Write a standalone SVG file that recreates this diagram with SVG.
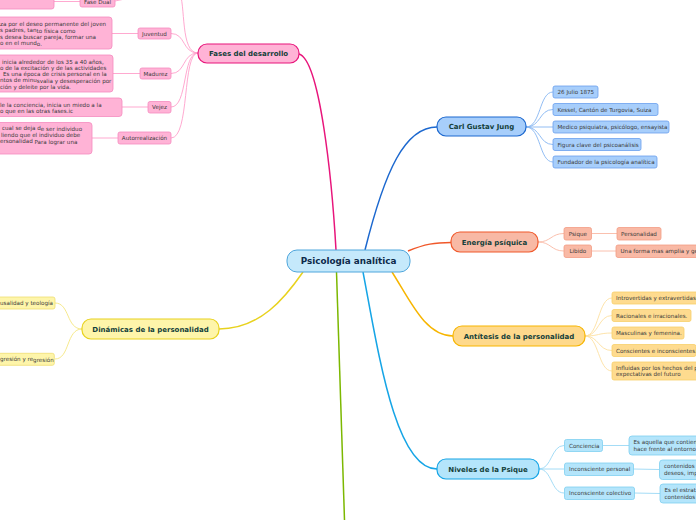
<svg xmlns="http://www.w3.org/2000/svg" width="696" height="520" viewBox="0 0 696 520">
<style>
text{font-family:"DejaVu Sans","Verdana",sans-serif}
.main{font-size:7px;font-weight:bold;fill:#13403a;text-anchor:middle}
.ctr{font-size:8.8px;font-weight:bold;fill:#0d2a4a;text-anchor:middle}
.s{font-size:5.6px;fill:#3a3a3a}
.m{text-anchor:middle}
.pk{fill:#ffb3d6;stroke:#f58bbf;stroke-width:0.8}
.bl{fill:#a7cefb;stroke:#6aa0ee;stroke-width:0.8}
.sa{fill:#f9b9a5;stroke:#f29c84;stroke-width:0.8}
.or{fill:#fedb8f;stroke:#f8cf6a;stroke-width:0.8}
.cy{fill:#b4e5fb;stroke:#7fcff0;stroke-width:0.8}
.ye{fill:#fef5aa;stroke:#efde72;stroke-width:0.8}
path{fill:none}
</style>
<rect width="696" height="520" fill="#ffffff"/>
<g id="connectors">
<path d="M336,250 C332,180 320,60 299,54" stroke="#e8157b" stroke-width="1.5"/>
<path d="M365,250 C385,170 405,127 437,127" stroke="#1c68cf" stroke-width="1.5"/>
<path d="M408,251 C425,244 435,242.5 451,242.5" stroke="#f0582a" stroke-width="1.5"/>
<path d="M392,272 C410,300 425,336 453,336" stroke="#f7b500" stroke-width="1.5"/>
<path d="M363,272 C378,350 395,469 437,469" stroke="#16a5e6" stroke-width="1.5"/>
<path d="M336.5,272 L344.5,520" stroke="#7cb800" stroke-width="1.5"/>
<path d="M303,272 C285,298 260,329 219,329" stroke="#e8d21e" stroke-width="1.5"/>
<g stroke="#ff9fcb" stroke-width="0.9">
<path d="M198,53 C180,53 186,5 179,-10"/>
<path d="M198,53 C182,53 186,33.5 171,33.5"/>
<path d="M198,53 C182,53 186,73.5 171,73.5"/>
<path d="M198,53 C182,53 188,107 171,107"/>
<path d="M198,53 C182,53 190,138 171,138"/>
<path d="M138,33.5 L112,33.5"/>
<path d="M140,73.5 L113,73.5"/>
<path d="M148,107 L122,107"/>
<path d="M118,138 L92,138"/>
<path d="M54,1.5 L80,1.5"/>
<path d="M115,1 L135,-3"/>
</g>
<g stroke="#86b6f2" stroke-width="0.9">
<path d="M526,127 C541,127 539,92 553,92"/>
<path d="M526,127 C541,127 539,109.5 553,109.5"/>
<path d="M526,127 L553,127"/>
<path d="M526,127 C541,127 539,144.5 553,144.5"/>
<path d="M526,127 C541,127 539,162 553,162"/>
</g>
<g stroke="#f9b9a5" stroke-width="0.9">
<path d="M538,242 C551,242 551,233.5 564,233.5"/>
<path d="M538,242 C551,242 551,251 564,251"/>
<path d="M592,233.5 L617,233.5"/>
<path d="M592,251 L616,251"/>
</g>
<g stroke="#fde0a0" stroke-width="0.9">
<path d="M585,336 C599,336 598,298 612,298"/>
<path d="M585,336 C599,336 598,315.5 612,315.5"/>
<path d="M585,336 C599,336 598,333 612,333"/>
<path d="M585,336 C599,336 598,350.5 612,350.5"/>
<path d="M585,336 C599,336 598,371 612,371"/>
</g>
<g stroke="#9ad8f5" stroke-width="0.9">
<path d="M539,469 C552,469 551,445.5 564,445.5"/>
<path d="M539,469 L564,469"/>
<path d="M539,469 C552,469 551,493 564,493"/>
<path d="M603,445.5 L629,445.5"/>
<path d="M633,469 L659,469.5"/>
<path d="M634,493 L660,493.5"/>
</g>
<g stroke="#f5e680" stroke-width="0.9">
<path d="M82,329 C66,329 70,303 55,303"/>
<path d="M82,329 C66,329 70,359 55,359"/>
</g>
</g>
<g id="center"><rect x="287" y="250" width="123" height="22" rx="10" fill="#c5e9fb" stroke="#4ea6dc" stroke-width="1"/><text class="ctr" x="348.5" y="264.3">Psicología analítica</text></g>
<g id="fases"><rect x="198" y="44" width="101" height="19" rx="9" fill="#ffb3d6" stroke="#e8157b" stroke-width="1.2"/><text class="main" x="248.5" y="56">Fases del desarrollo</text></g>
<g id="jung"><rect x="437" y="117" width="89" height="19" rx="9" fill="#a7cefb" stroke="#1c68cf" stroke-width="1.2"/><text class="main" x="481.5" y="129.3">Carl Gustav Jung</text></g>
<g id="energia"><rect x="451" y="232" width="87" height="20" rx="9" fill="#f8b9a5" stroke="#f0582a" stroke-width="1.2"/><text class="main" x="494.5" y="244.6">Energía psíquica</text></g>
<g id="antitesis"><rect x="453" y="326" width="132" height="20" rx="9" fill="#fed98c" stroke="#f7b500" stroke-width="1.2"/><text class="main" x="519" y="338.6">Antítesis de la personalidad</text></g>
<g id="niveles"><rect x="437" y="459" width="102" height="20" rx="9" fill="#b4e5fb" stroke="#16a5e6" stroke-width="1.2"/><text class="main" x="488" y="471.6">Niveles de la Psique</text></g>
<g id="dinamicas"><rect x="82" y="319" width="137" height="20" rx="9" fill="#fef5aa" stroke="#e8d21e" stroke-width="1.2"/><text class="main" x="150.5" y="331.6">Dinámicas de la personalidad</text></g>

<g id="fase-top"><rect class="pk" x="-5" y="-10" width="59" height="19" rx="2.5"/></g>
<g id="fase-dual"><rect class="pk" x="80" y="-5" width="35" height="12" rx="2"/><text class="s m" x="97.5" y="4">Fase Dual</text></g>
<g id="juventud"><rect class="pk" x="138" y="28" width="33" height="11" rx="2"/><text class="s m" x="154.5" y="35.5">Juventud</text></g>
<g id="madurez"><rect class="pk" x="140" y="68" width="31" height="11" rx="2"/><text class="s m" x="155.5" y="75.5">Madurez</text></g>
<g id="vejez"><rect class="pk" x="148" y="101.5" width="23" height="11.5" rx="2"/><text class="s m" x="159.5" y="109.2">Vejez</text></g>
<g id="autorrealizacion"><rect class="pk" x="118" y="132" width="53" height="12" rx="2"/><text class="s m" x="144.5" y="140">Autorrealización</text></g>
<g id="juventud-desc"><rect class="pk" x="-6" y="17" width="118" height="32" rx="3"/>
<text class="s" x="0" y="26">za por el deseo permanente del joven</text>
<text class="s" x="0" y="32">s padres, tan<tspan dy="1">to física como</tspan></text>
<text class="s" x="0" y="38.8">s desea buscar pareja, formar una</text>
<text class="s" x="0" y="45">o en el mund<tspan dy="0.8">o.</tspan></text></g>
<g id="madurez-desc"><rect class="pk" x="-6" y="55" width="119" height="37" rx="3"/>
<text class="s" x="2" y="63.5">inicia alrededor de los 35 a 40 años,</text>
<text class="s" x="0" y="69.6">o de la excita<tspan dy="0.6">ción y de las actividades</tspan></text>
<text class="s" x="3" y="76.2">Es una época de crisis personal en la</text>
<text class="s" x="0" y="82.2">ntos de minu<tspan dy="0.8">svalia y desesperación por</tspan></text>
<text class="s" x="0" y="89">ción y deleite por la vida.</text></g>
<g id="vejez-desc"><rect class="pk" x="-6" y="98" width="128" height="18.5" rx="3"/>
<text class="s" x="0" y="106.5">le la concien<tspan dy="0.8">cia, inicia un miedo a la</tspan></text>
<text class="s" x="0" y="113.4">o que en las otras fases.ic</text></g>
<g id="autorrealizacion-desc"><rect class="pk" x="-6" y="122.5" width="98" height="31.5" rx="3"/>
<text class="s" x="2" y="130">cual se deja d<tspan dy="0.8">e ser individuo</tspan></text>
<text class="s" x="1" y="137.4">liendo que el individuo debe</text>
<text class="s" x="0" y="143.2">ersonalidad<tspan dy="0.8"> Para lograr una</tspan></text></g>

<g id="jung-1"><rect class="bl" x="553" y="86" width="45" height="12" rx="2"/><text class="s" x="557.5" y="94">26 Julio 1875</text></g>
<g id="jung-2"><rect class="bl" x="553" y="103.5" width="105" height="12" rx="2"/><text class="s" x="557.5" y="111.5">Kessel, Cantón de Turgovia, Suiza</text></g>
<g id="jung-3"><rect class="bl" x="553" y="121" width="116" height="12" rx="2"/><text class="s" x="557.5" y="129">Medico psiquiatra, psicólogo, ensayista</text></g>
<g id="jung-4"><rect class="bl" x="553" y="138.5" width="88" height="12" rx="2"/><text class="s" x="557.5" y="146.5">Figura clave del psicoanálisis</text></g>
<g id="jung-5"><rect class="bl" x="553" y="156" width="104" height="12" rx="2"/><text class="s" x="557.5" y="164">Fundador de la psicología analítica</text></g>

<g id="psique"><rect class="sa" x="564" y="227.5" width="27.5" height="12.5" rx="2"/><text class="s m" x="577.8" y="235.7">Psique</text></g>
<g id="libido"><rect class="sa" x="564" y="245" width="27.5" height="12.5" rx="2"/><text class="s m" x="577.8" y="253.2">Libido</text></g>
<g id="personalidad"><rect class="sa" x="617" y="227.5" width="44" height="12.5" rx="2"/><text class="s m" x="639" y="235.7">Personalidad</text></g>
<g id="forma"><rect class="sa" x="616" y="245" width="90" height="12.5" rx="2"/><text class="s" x="620.5" y="253.2">Una forma mas amplia y ge</text></g>

<g id="ant-1"><rect class="or" x="612" y="292" width="94" height="12" rx="2"/><text class="s" x="616" y="300">Introvertidas y extravertidas.</text></g>
<g id="ant-2"><rect class="or" x="612" y="309.5" width="79" height="12" rx="2"/><text class="s" x="616" y="317.5">Racionales e irracionales.</text></g>
<g id="ant-3"><rect class="or" x="612" y="327" width="72" height="12" rx="2"/><text class="s" x="616" y="335">Masculinas y femenina.</text></g>
<g id="ant-4"><rect class="or" x="612" y="344.5" width="84" height="12" rx="2"/><text class="s" x="616" y="352.5">Conscientes e inconscientes.</text></g>
<g id="ant-5"><rect class="or" x="612" y="362" width="94" height="18" rx="2"/><text class="s" x="616" y="369.6">Influidas por los hechos del p</text><text class="s" x="616" y="376">expectativas del futuro</text></g>

<g id="conciencia"><rect class="cy" x="564.5" y="439.5" width="38" height="12" rx="2"/><text class="s" x="569" y="447.5">Conciencia</text></g>
<g id="inc-personal"><rect class="cy" x="564.5" y="463" width="69" height="12.5" rx="2"/><text class="s" x="569" y="471.2">Inconsciente personal</text></g>
<g id="inc-colectivo"><rect class="cy" x="564.5" y="487" width="70" height="12.5" rx="2"/><text class="s" x="569" y="495.2">Inconsciente colectivo</text></g>
<g id="conciencia-desc"><rect class="cy" x="629" y="436" width="80" height="19" rx="3"/><text class="s" x="633.5" y="444.3">Es aquella que contien</text><text class="s" x="633.5" y="450.8">hace frente al entorno</text></g>
<g id="personal-desc"><rect class="cy" x="659.5" y="460" width="50" height="19.5" rx="3"/><text class="s" x="664" y="468.4">contenidos</text><text class="s" x="664" y="474.6">deseos, imp</text></g>
<g id="colectivo-desc"><rect class="cy" x="660" y="484" width="50" height="19" rx="3"/><text class="s" x="664.5" y="492.2">Es el estrat</text><text class="s" x="664.5" y="498.5">contenidos</text></g>

<g id="din-1"><rect class="ye" x="-6" y="297" width="61" height="12" rx="2"/><text class="s" x="0" y="305">usalidad y teología</text></g>
<g id="din-2"><rect class="ye" x="-6" y="353.3" width="60.3" height="12" rx="2"/><text class="s" x="0" y="361">gresión y re<tspan dy="0.8">gresión</tspan></text></g>
</svg>
